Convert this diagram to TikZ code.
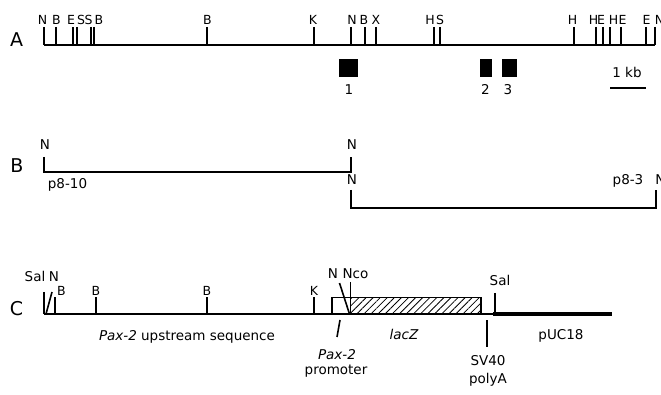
\documentclass[tikz,border=0pt]{standalone}
\usepackage{fontspec}
\setmainfont{DejaVu Sans}[ItalicFont={DejaVu Sans Oblique}]
\usetikzlibrary{patterns.meta}
\begin{document}
\begin{tikzpicture}[x=1pt,y=-1pt,
  tl/.style={inner sep=0pt, anchor=base, font=\fontsize{12.5}{13}\selectfont},
  lbl/.style={inner sep=0pt, anchor=base, font=\fontsize{13.5}{14}\selectfont},
  sec/.style={inner sep=0pt, anchor=center, font=\fontsize{19}{20}\selectfont},
  bb/.style={line width=2pt},
  tk/.style={line width=1.8pt},
  exon/.style={fill=black},
]
\useasboundingbox (0,0) rectangle (661,395);
% ---------------- A ----------------
\node[sec] (secA) at (16.5,39.5) {A};
\coordinate (a0) at (44,45);
\coordinate (a1) at (655,45);
\draw[bb] (a0) -- (a1);
\foreach \x in {44,56,73,77,91,94,207,314,351,365,376,434,440,574,596,603,610,621,646,655}
  \draw[tk] (\x,27) -- (\x,45);
\foreach \x/\t [count=\i] in {42.5/N,56.5/B,71/E,81/S,88.5/S,99/B,207.5/B,313/K,352/N,364/B,376/X,430/H,440/S,572.5/H,593.5/H,601/E,613.5/H,622.5/E,646.5/E,659.5/N}
  \node[tl] (ta\i) at (\x,25) {\t};
\fill[exon] (339,59) rectangle (358,77);
\fill[exon] (480,59) rectangle (492,77);
\fill[exon] (502,59) rectangle (517,77);
\node[lbl] (e1) at (349,95) {1};
\node[lbl] (e2) at (485.5,95) {2};
\node[lbl] (e3) at (508,95) {3};
\node[lbl] (kb) at (627,78) {1 kb};
\coordinate (s0) at (610,88);
\coordinate (s1) at (646,88);
\draw[tk] (s0) -- (s1);
% ---------------- B ----------------
\node[sec] (secB) at (17,165.5) {B};
\coordinate (b1) at (44,157);
\coordinate (b2) at (44,172);
\coordinate (b3) at (351,172);
\coordinate (b4) at (351,157);
\draw[bb] (b1) -- (b2) -- (b3) -- (b4);
\coordinate (c1) at (351,190);
\coordinate (c2) at (351,208);
\coordinate (c3) at (656,208);
\coordinate (c4) at (656,190);
\draw[bb] (c1) -- (c2) -- (c3) -- (c4);
\node[lbl] (bn1) at (45,150) {N};
\node[lbl] (bn2) at (352,150) {N};
\node[lbl] (bn3) at (352,185) {N};
\node[lbl] (bn4) at (660.5,185) {N};
\node[lbl] (p810) at (67.5,189) {p8-10};
\node[lbl] (p83) at (628,185) {p8-3};
% ---------------- C ----------------
\node[sec] (secC) at (16.5,309) {C};
\coordinate (m0) at (44,314);
\coordinate (m1) at (493,314);
\coordinate (m2) at (612,314);
\draw[bb] (m0) -- (m1);
\draw[line width=4pt] (m1) -- (m2);
\draw[tk] (44,292) -- (44,314);
\draw[line width=1.6pt] (46,314) -- (52,292);
\foreach \x in {55,96,207,314}
  \draw[tk] (\x,297) -- (\x,314);
\node[lbl] (csal) at (35,281) {Sal};
\node[lbl] (cn) at (54,281) {N};
\node[tl] (cb1) at (61.5,295) {B};
\node[tl] (cb2) at (96,295) {B};
\node[tl] (cb3) at (207,295) {B};
\node[tl] (ck) at (314,295) {K};
% promoter + lacZ box
\fill[pattern={Lines[angle=45,distance=5pt,line width=0.8pt]}] (350,297.5) rectangle (481,314);
\draw[line width=1.5pt] (332,297.5) rectangle (481,314);
\draw[line width=1.6pt] (339.5,283) -- (349.5,314);
\draw[line width=1.5pt] (350.5,282) -- (350.5,314);
\node[lbl] (cn2) at (333,279) {N};
\node[lbl] (cnco) at (355.5,279) {Nco};
\draw[line width=1.6pt] (340,320) -- (337,337);
\node[lbl] (pax) at (337,359) {\itshape Pax-2};
\node[lbl] (prom) at (336,374) {promoter};
\node[lbl] (ups) at (187,340) {\textit{Pax-2} upstream sequence};
\node[lbl] (lacz) at (404,339) {\itshape lacZ};
\node[lbl] (puc) at (561,339) {pUC18};
\draw[tk] (487,320) -- (487,347);
\draw[tk] (495,293) -- (495,314);
\node[lbl] (csal2) at (500,286) {Sal};
\node[lbl] (sv40) at (488,365) {SV40};
\node[lbl] (polya) at (488,383) {polyA};
\end{tikzpicture}
\end{document}
